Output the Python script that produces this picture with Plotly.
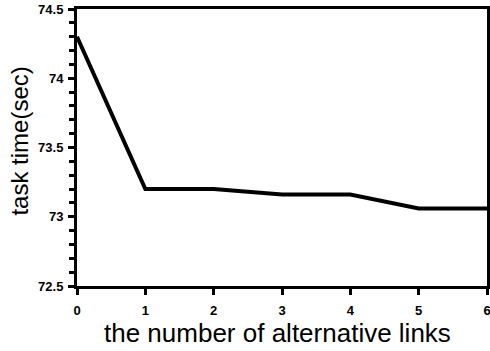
import plotly.graph_objects as go

links = [0, 1, 2, 3, 4, 5, 6]
task_time = [74.3, 73.2, 73.2, 73.16, 73.16, 73.06, 73.06]
x_title = "the number of alternative links"
y_title = "task time(sec)"

fig = go.Figure()
fig.add_trace(go.Scatter(x=links, y=task_time, mode="lines",
                         line=dict(color="black", width=4), showlegend=False,
                         cliponaxis=False))

tick_font = dict(size=13, family="Liberation Sans, Arial, sans-serif", weight="bold")

fig.update_layout(
    width=490, height=351,
    margin=dict(l=77, r=3, t=9, b=65, autoexpand=False),
    paper_bgcolor="white", plot_bgcolor="white",
    font=dict(family="Liberation Sans, Arial, sans-serif", color="black"),
    xaxis=dict(
        range=[0, 6], tickmode="linear", tick0=0, dtick=1, automargin=False,
        ticklabeloverflow="allow", ticklabelstandoff=4,
        showgrid=False, zeroline=False, showline=True, linecolor="black", linewidth=3,
        mirror=True, ticks="outside", ticklen=6, tickwidth=2.5, tickcolor="black",
        tickfont=tick_font,
    ),
    yaxis=dict(
        range=[72.5, 74.5], tickmode="linear", tick0=72.5, dtick=0.5, automargin=False,
        ticklabeloverflow="allow", ticklabelstandoff=2,
        showgrid=False, zeroline=False, showline=True, linecolor="black", linewidth=3,
        mirror=True, ticks="outside", ticklen=6, tickwidth=2.5, tickcolor="black",
        minor=dict(dtick=0.1, tick0=72.5, ticks="outside", ticklen=5, tickwidth=2.5,
                   tickcolor="black", showgrid=False),
        tickfont=tick_font,
    ),
    annotations=[
        dict(text=x_title, xref="paper", yref="paper", x=0.490, y=-0.168,
             xanchor="center", yanchor="middle", showarrow=False,
             font=dict(size=26, family="Liberation Sans, Arial, sans-serif", color="black")),
        dict(text=y_title, xref="paper", yref="paper", x=-0.141, y=0.522,
             xanchor="center", yanchor="middle", showarrow=False, textangle=-90,
             font=dict(size=24, family="Liberation Sans, Arial, sans-serif", color="black")),
    ],
)

fig.write_html(
    "out.html",
    config={"displayModeBar": False},
    post_script="document.body.style.margin='0';document.documentElement.style.overflow='hidden';",
)
